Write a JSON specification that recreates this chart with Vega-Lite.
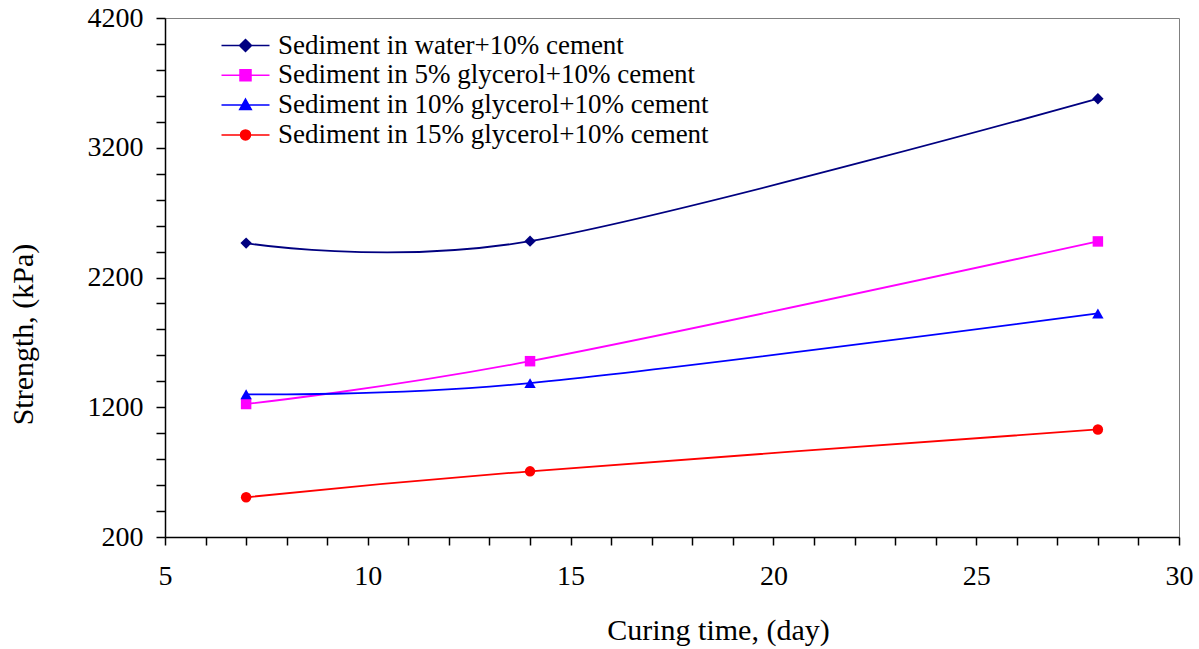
{
  "$schema": "https://vega.github.io/schema/vega-lite/v6.json",
  "width": 1014,
  "height": 519,
  "autosize": {"type": "none"},
  "padding": {"left": 165, "top": 18, "right": 20, "bottom": 112},
  "background": "white",
  "config": {
    "view": {"stroke": "#808080", "strokeWidth": 1},
    "font": "Liberation Serif"
  },
  "data": {
    "values": [
      {"series": "Sediment in water+10% cement", "day": 7, "strength": 2465},
      {"series": "Sediment in water+10% cement", "day": 14, "strength": 2480},
      {"series": "Sediment in water+10% cement", "day": 28, "strength": 3578},
      {"series": "Sediment in 5% glycerol+10% cement", "day": 7, "strength": 1225},
      {"series": "Sediment in 5% glycerol+10% cement", "day": 14, "strength": 1555},
      {"series": "Sediment in 5% glycerol+10% cement", "day": 28, "strength": 2478},
      {"series": "Sediment in 10% glycerol+10% cement", "day": 7, "strength": 1300},
      {"series": "Sediment in 10% glycerol+10% cement", "day": 14, "strength": 1386},
      {"series": "Sediment in 10% glycerol+10% cement", "day": 28, "strength": 1923},
      {"series": "Sediment in 15% glycerol+10% cement", "day": 7, "strength": 506},
      {"series": "Sediment in 15% glycerol+10% cement", "day": 14, "strength": 706},
      {"series": "Sediment in 15% glycerol+10% cement", "day": 28, "strength": 1029}
    ]
  },
  "encoding": {
    "x": {
      "field": "day",
      "type": "quantitative",
      "scale": {"domain": [5, 30], "nice": false, "zero": false},
      "axis": {
        "title": "Curing time, (day)",
        "grid": false,
        "domainColor": "black",
        "domainWidth": 1.5,
        "tickColor": "black",
        "tickWidth": 1.5,
        "labelColor": "black",
        "titleColor": "black",
        "labelFont": "Liberation Serif",
        "titleFont": "Liberation Serif",
        "labelFontSize": 28,
        "titleFontSize": 30,
        "titleFontWeight": "normal",
        "values": [5,6,7,8,9,10,11,12,13,14,15,16,17,18,19,20,21,22,23,24,25,26,27,28,29,30],
        "labelExpr": "datum.value % 5 === 0 ? datum.label : ''",
        "format": "d",
        "tickSize": 8,
        "labelPadding": 17,
        "labelFlush": false,
        "labelOverlap": false,
        "titleX": 553,
        "titleY": 102,
        "titleBaseline": "alphabetic",
        "titleAlign": "center"
      }
    },
    "y": {
      "field": "strength",
      "type": "quantitative",
      "scale": {"domain": [200, 4200], "nice": false, "zero": false},
      "axis": {
        "title": "Strength, (kPa)",
        "grid": false,
        "domainColor": "black",
        "domainWidth": 1.5,
        "tickColor": "black",
        "tickWidth": 1.5,
        "labelColor": "black",
        "titleColor": "black",
        "labelFont": "Liberation Serif",
        "titleFont": "Liberation Serif",
        "labelFontSize": 28,
        "titleFontSize": 30,
        "titleFontWeight": "normal",
        "values": [200,400,600,800,1000,1200,1400,1600,1800,2000,2200,2400,2600,2800,3000,3200,3400,3600,3800,4000,4200],
        "labelExpr": "(datum.value - 200) % 1000 === 0 ? datum.label : ''",
        "format": "d",
        "tickSize": 9,
        "labelPadding": 13,
        "labelFlush": false,
        "labelOverlap": false,
        "titleX": -133,
        "titleY": 316,
        "titleBaseline": "alphabetic",
        "titleAlign": "center",
        "titleAngle": -90
      }
    },
    "color": {
      "field": "series",
      "type": "nominal",
      "scale": {
        "domain": [
          "Sediment in water+10% cement",
          "Sediment in 5% glycerol+10% cement",
          "Sediment in 10% glycerol+10% cement",
          "Sediment in 15% glycerol+10% cement"
        ],
        "range": ["#000080", "#FF00FF", "#0000FF", "#FF0000"]
      },
      "legend": {
        "title": null,
        "orient": "none",
        "legendX": 53,
        "legendY": 14,
        "padding": 0,
        "labelFont": "Liberation Serif",
        "labelFontSize": 27,
        "labelColor": "black",
        "labelLimit": 0,
        "symbolSize": 400,
        "labelOffset": 33,
        "rowPadding": 1.8,
        "encode": {
          "symbols": {
            "update": {
              "shape": {"signal": "datum.value === 'Sediment in water+10% cement' ? 'M-1,0H3.8M1.4,-0.6L2,0L1.4,0.6L0.8,0Z' : datum.value === 'Sediment in 5% glycerol+10% cement' ? 'M-1,0H3.8M0.85,-0.55H1.95V0.55H0.85Z' : datum.value === 'Sediment in 10% glycerol+10% cement' ? 'M-1,0H3.8M1.4,-0.6L1.98,0.45L0.82,0.45Z' : 'M-1,0H3.8M1.9,0A0.5,0.5,0,1,1,0.9,0A0.5,0.5,0,1,1,1.9,0Z'"},
              "fill": {"scale": "color", "field": "value"},
              "stroke": {"scale": "color", "field": "value"},
              "strokeWidth": {"value": 1.5},
              "size": {"value": 400},
              "opacity": {"value": 1}
            }
          }
        }
      }
    }
  },
  "layer": [
    {"mark": {"type": "line", "interpolate": "cardinal", "strokeWidth": 1.8}},
    {
      "transform": [{"filter": "datum.series === 'Sediment in water+10% cement'"}],
      "mark": {"type": "point", "filled": true, "opacity": 1, "size": 130, "shape": "diamond"}
    },
    {
      "transform": [{"filter": "datum.series === 'Sediment in 5% glycerol+10% cement'"}],
      "mark": {"type": "point", "filled": true, "opacity": 1, "size": 110, "shape": "square"}
    },
    {
      "transform": [{"filter": "datum.series === 'Sediment in 10% glycerol+10% cement'"}],
      "mark": {"type": "point", "filled": true, "opacity": 1, "size": 130, "shape": "triangle-up"}
    },
    {
      "transform": [{"filter": "datum.series === 'Sediment in 15% glycerol+10% cement'"}],
      "mark": {"type": "point", "filled": true, "opacity": 1, "size": 110, "shape": "circle"}
    }
  ]
}
